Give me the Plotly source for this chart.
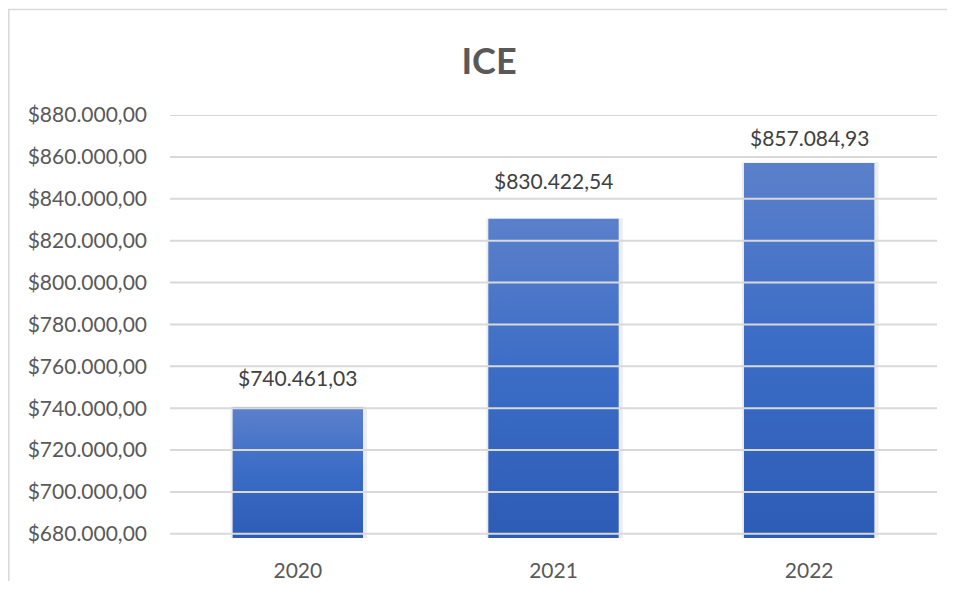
import plotly.graph_objects as go

categories = ["2020", "2021", "2022"]
values = [740461.03, 830422.54, 857084.93]
y_ticks = [680000, 700000, 720000, 740000, 760000, 780000, 800000,
           820000, 840000, 860000, 880000]
title_text = "ICE"

Y_MIN, Y_MAX = 678000, 880000
HALF = 0.255
FONT = "Lato"
LABEL_SHIFT = [15, 24, 11]  # pixel offsets of the data labels above each bar

# page has an 8px body margin, so the figure is sized to fit within the window
W, H = 939, 573
L, R, T, B = 162, 10, 107, 43
PW, PH = W - L - R, H - T - B

fig = go.Figure()

def fmt(v):
    s = f"{v:,.2f}"
    s = s.replace(",", "X").replace(".", ",").replace("X", ".")
    return "$" + s

for i, (c, v) in enumerate(zip(categories, values)):
    # soft shadow
    fig.add_trace(go.Scatter(
        x=[i - HALF - 0.008, i + HALF + 0.016, i + HALF + 0.016, i - HALF - 0.008, i - HALF - 0.008],
        y=[Y_MIN, Y_MIN, v + 300, v + 300, Y_MIN],
        fill="toself", mode="lines", line=dict(width=0),
        fillcolor="rgba(0,0,0,0.07)", hoverinfo="skip", showlegend=False))
    # bar with vertical gradient
    fig.add_trace(go.Scatter(
        x=[i - HALF, i + HALF, i + HALF, i - HALF, i - HALF],
        y=[Y_MIN, Y_MIN, v, v, Y_MIN],
        fill="toself", mode="lines", line=dict(width=0),
        fillgradient=dict(type="vertical",
                          colorscale=[[0, "#2d5cb5"], [0.5, "#3a6cc6"], [1, "#5b80cb"]]),
        name=c, hovertemplate=f"{c}: {fmt(v)}<extra></extra>", showlegend=False))
    fig.add_annotation(x=i, y=v, text=fmt(v), showarrow=False,
                       yanchor="bottom", yshift=LABEL_SHIFT[i],
                       font=dict(family=FONT, size=21, color="#404040"))

shapes = []
for t in y_ticks:
    shapes.append(dict(type="line", xref="paper", x0=0, x1=1, yref="y", y0=t, y1=t,
                       line=dict(color="#d9d9d9", width=2), layer="above"))
shapes.append(dict(type="rect", xref="paper", yref="paper",
                   x0=(0.8 - L) / PW, x1=(W + 20 - L) / PW,
                   y0=(PH + T - H - 20) / PH, y1=(PH + T - 1.5) / PH,
                   line=dict(color="#d9d9d9", width=1.5), layer="below"))

fig.update_layout(
    width=W, height=H,
    margin=dict(l=L, r=R, t=T, b=B, autoexpand=False),
    paper_bgcolor="white", plot_bgcolor="white",
    separators=",.",
    title=dict(text=f"<b>{title_text}</b>", xref="container", x=481 / W,
               xanchor="center", y=1 - 53 / H, yanchor="middle",
               font=dict(family=FONT, size=36, color="#595959")),
    xaxis=dict(range=[-0.5, 2.5], tickvals=list(range(len(categories))),
               ticktext=categories, showgrid=False, zeroline=False, showline=False,
               ticks="", ticklabelstandoff=18, automargin=False,
               tickfont=dict(family=FONT, size=21, color="#595959")),
    yaxis=dict(range=[Y_MIN, Y_MAX], tickvals=y_ticks, tickformat="$,.2f",
               showgrid=False, zeroline=False, showline=False, ticks="",
               ticklabelstandoff=22, automargin=False,
               tickfont=dict(family=FONT, size=21, color="#595959")),
    shapes=shapes,
    showlegend=False,
)

fig.write_html("out.html")
